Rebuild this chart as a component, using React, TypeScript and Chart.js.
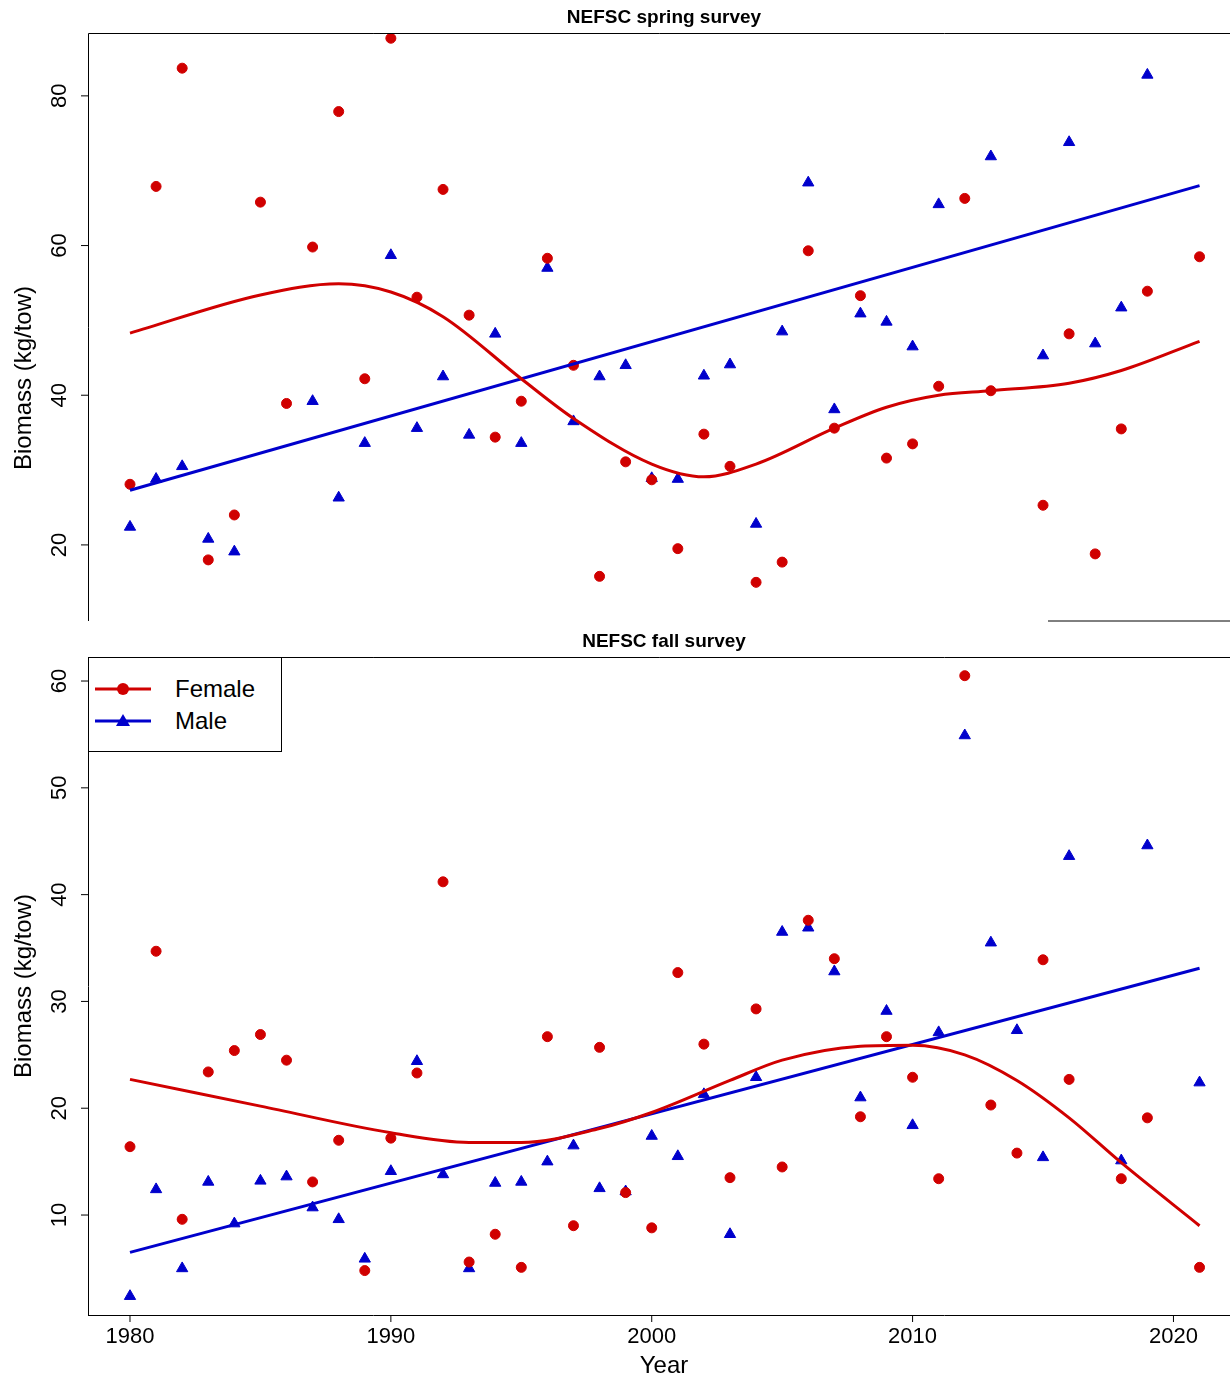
import React, { useEffect, useRef } from "react";
import { Chart, registerables } from "chart.js";
Chart.register(...registerables);

const years = Array.from({ length: 42 }, (_, i) => 1980 + i);
// top panel (spring)
const springFemale = [28.1,67.9,83.7,18.0,24.0,65.8,38.9,59.8,77.9,42.2,87.7,53.1,67.5,50.7,34.4,39.2,58.3,44.0,15.8,31.1,28.7,19.5,34.8,30.5,15.0,17.7,59.3,35.6,53.3,31.6,33.5,41.2,66.3,40.6,null,25.3,48.2,18.8,35.5,53.9,null,58.5];
const springMale = [22.4,28.8,30.5,20.8,19.1,null,null,39.2,26.3,33.6,58.7,35.6,42.5,34.7,48.2,33.6,57.0,36.5,42.5,44.0,28.9,28.8,42.6,44.1,22.8,48.5,68.4,38.1,50.9,49.8,46.5,65.5,null,71.9,null,45.3,73.8,46.9,51.7,82.8,null,null];
const springFemaleFitX = [1980,1985,1988,1990,1992,1995,1997,2000,2002,2004,2007,2009,2011,2013,2016,2018,2021];
const springFemaleFitY = [48.3,53.4,54.9,53.8,50.5,42.2,36.9,30.8,29.1,30.8,35.6,38.4,40.0,40.6,41.6,43.3,47.2];
const springMaleFitX = [1980,2021];
const springMaleFitY = [27.3,68.0];
// bottom panel (fall)
const fallFemale = [16.4,34.7,9.6,23.4,25.4,26.9,24.5,13.1,17.0,4.8,17.2,23.3,41.2,5.6,8.2,5.1,26.7,9.0,25.7,12.1,8.8,32.7,26.0,13.5,29.3,14.5,37.6,34.0,19.2,26.7,22.9,13.4,60.5,20.3,15.8,33.9,22.7,null,13.4,19.1,null,5.1];
const fallMale = [2.4,12.4,5.0,13.1,9.2,13.2,13.6,10.7,9.6,5.9,14.1,24.4,13.8,5.0,13.0,13.1,15.0,16.5,12.5,12.2,17.4,15.5,21.3,8.2,22.9,36.5,36.9,32.8,21.0,29.1,18.4,27.1,54.9,35.5,27.3,15.4,43.6,null,15.1,44.6,null,22.4];
const fallFemaleFitX = [1980,1985,1990,1993,1995,1998,2000,2003,2005,2008,2010,2012,2014,2016,2018,2021];
const fallFemaleFitY = [22.7,20.2,17.7,16.8,16.8,18.1,19.6,22.6,24.5,25.8,25.9,25.0,22.6,19.1,14.9,9.0];
const fallMaleFitX = [1980,2021];
const fallMaleFitY = [6.5,33.1];
const xTicks = [1980,1990,2000,2010,2020];
const springYTicks = [20,40,60,80];
const fallYTicks = [10,20,30,40,50,60];

const RED = "#D00000";
const BLUE = "#0000CC";
const pts = (v: (number|null)[]) => years.map((x, i) => ({ x, y: v[i] })).filter(p => p.y !== null);
const line = (xs: number[], ys: number[]) => xs.map((x, i) => ({ x, y: ys[i] }));

function Panel({ h, top, title, ymin, ymax, yTicks, showX, f, m, ffx, ffy, mfx, mfy, padTop, padBottom, bottomFrom, labelY }: any) {
  const ref = useRef<HTMLCanvasElement>(null);
  useEffect(() => {
    document.documentElement.style.overflow = "hidden";
    const axisPlugin = {
      id: "axes",
      afterDraw(chart: any) {
        const { ctx, chartArea: a, scales } = chart;
        ctx.save();
        ctx.strokeStyle = "#000"; ctx.lineWidth = 1;
        ctx.beginPath();
        ctx.moveTo(a.left + 0.5, a.bottom + 0.5); ctx.lineTo(a.left + 0.5, a.top + 0.5); ctx.lineTo(1230, a.top + 0.5);
        ctx.moveTo(bottomFrom, a.bottom + 0.5); ctx.lineTo(1230, a.bottom + 0.5);
        ctx.stroke();
        ctx.fillStyle = "#000";
        ctx.font = "bold 19px 'Liberation Sans', Arial";
        ctx.textAlign = "center"; ctx.textBaseline = "middle";
        ctx.fillText(title, 664, a.top - 15);
        ctx.font = "22px 'Liberation Sans', Arial";
        for (const t of yTicks) {
          const y = scales.y.getPixelForValue(t);
          ctx.beginPath(); ctx.moveTo(a.left, y); ctx.lineTo(a.left - 7, y); ctx.stroke();
          ctx.save(); ctx.translate(a.left - 28, y); ctx.rotate(-Math.PI / 2);
          ctx.fillText(String(t), 0, 0); ctx.restore();
        }
        ctx.font = "24px 'Liberation Sans', Arial";
        ctx.save(); ctx.translate(24, labelY); ctx.rotate(-Math.PI / 2);
        ctx.fillText("Biomass (kg/tow)", 0, 0); ctx.restore();
        if (showX) {
          ctx.font = "22px 'Liberation Sans', Arial";
          for (const t of xTicks) {
            const x = scales.x.getPixelForValue(t);
            ctx.beginPath(); ctx.moveTo(x, a.bottom); ctx.lineTo(x, a.bottom + 7); ctx.stroke();
            ctx.fillText(String(t), x, a.bottom + 22);
          }
          ctx.font = "24px 'Liberation Sans', Arial";
          ctx.fillText("Year", 664, a.bottom + 51);
        }
        ctx.restore();
      },
    };
    const chart = new Chart(ref.current!, {
      type: "scatter",
      data: {
        datasets: [
          { data: line(ffx, ffy), showLine: true, borderColor: RED, borderWidth: 3, pointRadius: 0, cubicInterpolationMode: "monotone" } as any,
          { data: line(mfx, mfy), showLine: true, borderColor: BLUE, borderWidth: 3, pointRadius: 0 },
          { data: pts(f), pointStyle: "circle", pointRadius: 5, backgroundColor: RED, borderColor: RED, showLine: false },
          { data: pts(m), pointStyle: "triangle", pointRadius: 6.5, backgroundColor: BLUE, borderColor: BLUE, showLine: false },
        ],
      },
      options: {
        animation: false, responsive: false, maintainAspectRatio: false,
        layout: { padding: { left: 88, right: 0, top: padTop, bottom: padBottom } },
        plugins: { legend: { display: false }, tooltip: { enabled: false } },
        scales: {
          x: { type: "linear", min: 1978.39, max: 2021.88, display: false },
          y: { type: "linear", min: ymin, max: ymax, display: false },
        },
      },
      plugins: [axisPlugin],
    });
    return () => chart.destroy();
  }, []);
  return <canvas ref={ref} width={1230} height={h} style={{ position: "absolute", left: 0, top, width: 1230, height: h }} />;
}

function LegendRow({ color, label, tri }: any) {
  return (
    <div style={{ display: "flex", alignItems: "center", height: 32 }}>
      <svg width={70} height={20} style={{ marginLeft: 6 }}>
        <line x1={0} y1={10} x2={56} y2={10} stroke={color} strokeWidth={3} />
        {tri ? <polygon points="28,3 35,15 21,15" fill={color} /> : <circle cx={28} cy={10} r={6} fill={color} />}
      </svg>
      <span style={{ marginLeft: 10, fontSize: 24, fontFamily: "'Liberation Sans', Arial" }}>{label}</span>
    </div>
  );
}

export default function App() {
  return (
    <div style={{ position: "absolute", left: 0, top: 0, width: 1230, height: 1379, background: "#fff", overflow: "hidden" }}>
      <Panel h={628} top={0} title="NEFSC spring survey" ymin={9.9} ymax={88.4} yTicks={springYTicks} showX={false} bottomFrom={1048} labelY={378}
        f={springFemale} m={springMale} ffx={springFemaleFitX} ffy={springFemaleFitY} mfx={springMaleFitX} mfy={springMaleFitY} padTop={33} padBottom={5} />
      <Panel h={751} top={628} title="NEFSC fall survey" ymin={0.64} ymax={62.25} yTicks={fallYTicks} showX={true} bottomFrom={88} labelY={358}
        f={fallFemale} m={fallMale} ffx={fallFemaleFitX} ffy={fallFemaleFitY} mfx={fallMaleFitX} mfy={fallMaleFitY} padTop={29} padBottom={64} />
      <div style={{ position: "absolute", left: 88, top: 657, width: 194, height: 95, border: "1px solid #000", background: "#fff", paddingTop: 15, boxSizing: "border-box" }}>
        <LegendRow color={RED} label="Female" />
        <LegendRow color={BLUE} label="Male" tri />
      </div>
    </div>
  );
}
